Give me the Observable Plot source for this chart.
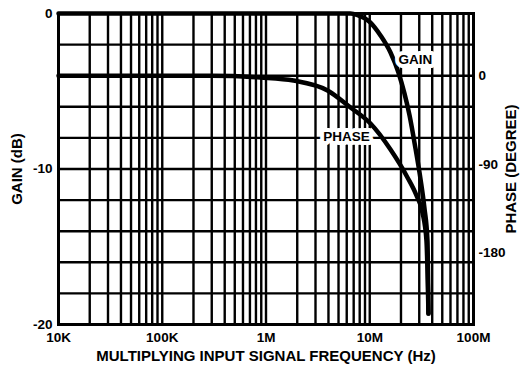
<!DOCTYPE html>
<html><head><meta charset="utf-8">
<style>html,body{margin:0;padding:0;background:#fff}</style>
<script src="https://cdn.jsdelivr.net/npm/d3@7"></script>
<script src="https://cdn.jsdelivr.net/npm/@observablehq/plot@0.6"></script>
</head><body><div id="chart"></div>
<script>
// Gain curve (dB) vs frequency (Hz)
const gainFreq = [1e4, 1e6, 6.5e6, 7.62e6, 1.016e7, 1.27e7, 1.585e7, 1.89e7, 2.16e7, 2.42e7, 2.76e7, 3.08e7, 3.37e7, 3.6e7, 3.68e7];
const gainDb   = [0,   0,   0,     -0.1,   -0.58,   -1.41,  -2.51,   -3.79,  -5.14,  -6.56,  -8.68,  -10.61, -12.54, -14.6, -19.3];
// Phase curve (degrees) vs frequency (Hz)
const phaseFreq = [1e4, 3e5, 8.85e5, 1.84e6, 3.92e6, 6.52e6, 1.016e7, 1.585e7, 2.31e7, 2.82e7, 3.22e7, 3.52e7, 3.68e7];
const phaseDeg  = [0,   0,   -1.8,   -4.9,   -15,    -32.3,  -48.6,   -75,     -103.4, -121.7, -139,   -167.5, -241.6];
// Axes
const xTickFreqs = [1e4, 1e5, 1e6, 1e7, 1e8];
const xTickLabels = ["10K", "100K", "1M", "10M", "100M"];
const yTicks = [0, -10, -20];
const yTickLabels = ["0", "-10", "-20"];
const phaseTicks = [0, -90, -180];
const phaseTickLabels = ["0", "-90", "-180"];
const gridDb = [0, -2, -4, -6, -8, -10, -12, -14, -16, -18, -20];
const gridDecades = [1e4, 1e5, 1e6, 1e7];
const gridMantissas = [1, 2, 3, 4, 5, 6, 7, 8, 9];
const xTitle = "MULTIPLYING INPUT SIGNAL FREQUENCY (Hz)";
const yTitle = "GAIN (dB)";
const y2Title = "PHASE (DEGREE)";
// Curve labels
const labelText = ["GAIN", "PHASE"];
const labelFreq = [2.76e7, 5.97e6];
const labelDb = [-3.0, -7.9];

const phaseZeroDb = -4, degPerDb = 15.8;
const toG = p => phaseZeroDb + p / degPerDb;

const gridFreqs = gridDecades.flatMap(d => gridMantissas.map(m => d * m)).concat([1e8]);
const gainRows = gainFreq.map((f, i) => ({f, g: gainDb[i]}));
const phaseRows = phaseFreq.map((f, i) => ({f, g: toG(phaseDeg[i])}));
const labels = labelText.map((t, i) => ({t, f: labelFreq[i], g: labelDb[i]}));
const xLab = new Map(xTickFreqs.map((v, i) => [v, xTickLabels[i]]));
const yLab = new Map(yTicks.map((v, i) => [v, yTickLabels[i]]));
const pVals = phaseTicks.map(toG);
const pLab = new Map(pVals.map((v, i) => [v, phaseTickLabels[i]]));

const chart = Plot.plot({
  width: 520, height: 371,
  marginLeft: 58, marginRight: 47, marginTop: 13, marginBottom: 47,
  style: {fontFamily: "'Liberation Sans', Arial, sans-serif", fontWeight: "bold", fontSize: "13.5px", color: "#000", background: "#fff", overflow: "visible"},
  x: {type: "log", domain: [1e4, 1e8]},
  y: {domain: [-20, 0]},
  marks: [
    Plot.ruleX(gridFreqs, {stroke: "#000", strokeWidth: 2.4}),
    Plot.ruleY(gridDb, {stroke: "#000", strokeWidth: 2.4}),
    Plot.frame({stroke: "#000", strokeWidth: 3}),
    Plot.line(phaseRows, {x: "f", y: "g", stroke: "#000", strokeWidth: 4.5, curve: "monotone-x"}),
    Plot.line(gainRows, {x: "f", y: "g", stroke: "#000", strokeWidth: 4.5, curve: "monotone-x"}),
    Plot.text(labels, {x: "f", y: "g", text: "t", fill: "#000", stroke: "#fff", strokeWidth: 8, fontSize: 13.5, fontWeight: "bold"}),
    Plot.axisX(xTickFreqs, {tickSize: 0, tickPadding: 8, tickFormat: d => xLab.get(d), label: null, fontSize: 13.5}),
    Plot.axisY(yTicks, {anchor: "left", tickSize: 0, tickPadding: 6, tickFormat: d => yLab.get(d), label: null, fontSize: 13.5}),
    Plot.axisY(pVals, {anchor: "right", tickSize: 0, tickPadding: 5, tickFormat: d => pLab.get(d), label: null, fontSize: 13.5}),
    Plot.text([xTitle], {text: d => d, frameAnchor: "bottom", dy: 32, fontSize: 15, fontWeight: "bold", lineAnchor: "middle", textAnchor: "middle"}),
    Plot.text([yTitle], {text: d => d, frameAnchor: "left", dx: -41, rotate: -90, fontSize: 15, fontWeight: "bold", textAnchor: "middle", lineAnchor: "middle"}),
    Plot.text([y2Title], {text: d => d, frameAnchor: "right", dx: 38, rotate: -90, fontSize: 15, fontWeight: "bold", textAnchor: "middle", lineAnchor: "middle"})
  ]
});
document.getElementById("chart").appendChild(chart);
</script>
</body></html>
